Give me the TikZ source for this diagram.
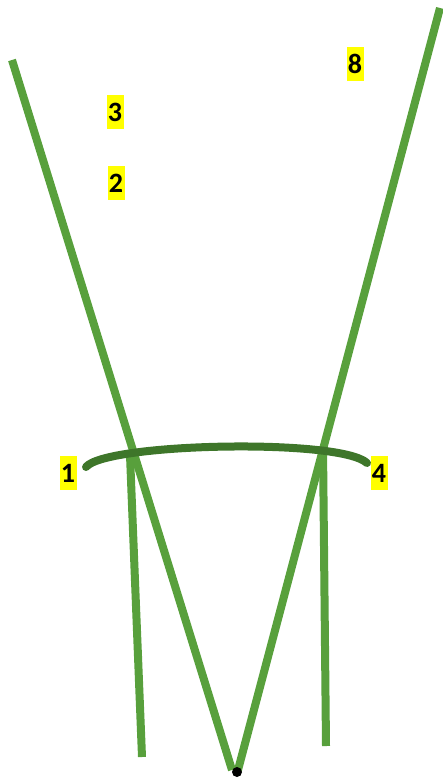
\documentclass[tikz,border=0pt]{standalone}
\usepackage{fontspec}
\setmainfont{Carlito}
\definecolor{lgreen}{RGB}{88,160,60}
\definecolor{dgreen}{RGB}{62,118,42}
\definecolor{hl}{RGB}{255,255,0}
\tikzset{
  stalk/.style={draw=lgreen,line width=8pt},
  arcline/.style={draw=dgreen,line width=8pt,line cap=round},
  lbl/.style={fill=hl,inner sep=0pt,minimum width=17pt,minimum height=34pt,font=\fontsize{28}{32}\selectfont\bfseries}
}
\begin{document}
\begin{tikzpicture}[x=1pt,y=-1pt]
\useasboundingbox (0,0) rectangle (442,778);
\coordinate (lt) at (12,60);
\coordinate (rt) at (440,8);
\coordinate (bl) at (232,770);
\coordinate (br) at (238,770);
\coordinate (v1t) at (130,455);
\coordinate (v1b) at (142,757);
\coordinate (v2t) at (323,447);
\coordinate (v2b) at (326,746);
\coordinate (a1) at (86,467);
\coordinate (a2) at (367,463);
\path[stalk] (lt) -- (bl);
\path[stalk] (rt) -- (br);
\path[stalk] (v1t) -- (v1b);
\path[stalk] (v2t) -- (v2b);
\path[arcline] (a1) .. controls (105,443) and (340,438) .. (a2);
\node[circle,fill=black,inner sep=0pt,minimum size=10pt] (dot) at (237,772) {};
\node[lbl] (n1) at (68,473) {1};
\node[lbl] (n4) at (379,473) {4};
\node[lbl] (n3) at (115,112) {3};
\node[lbl] (n2) at (116,183) {2};
\node[lbl] (n8) at (355,64) {8};
\end{tikzpicture}
\end{document}
